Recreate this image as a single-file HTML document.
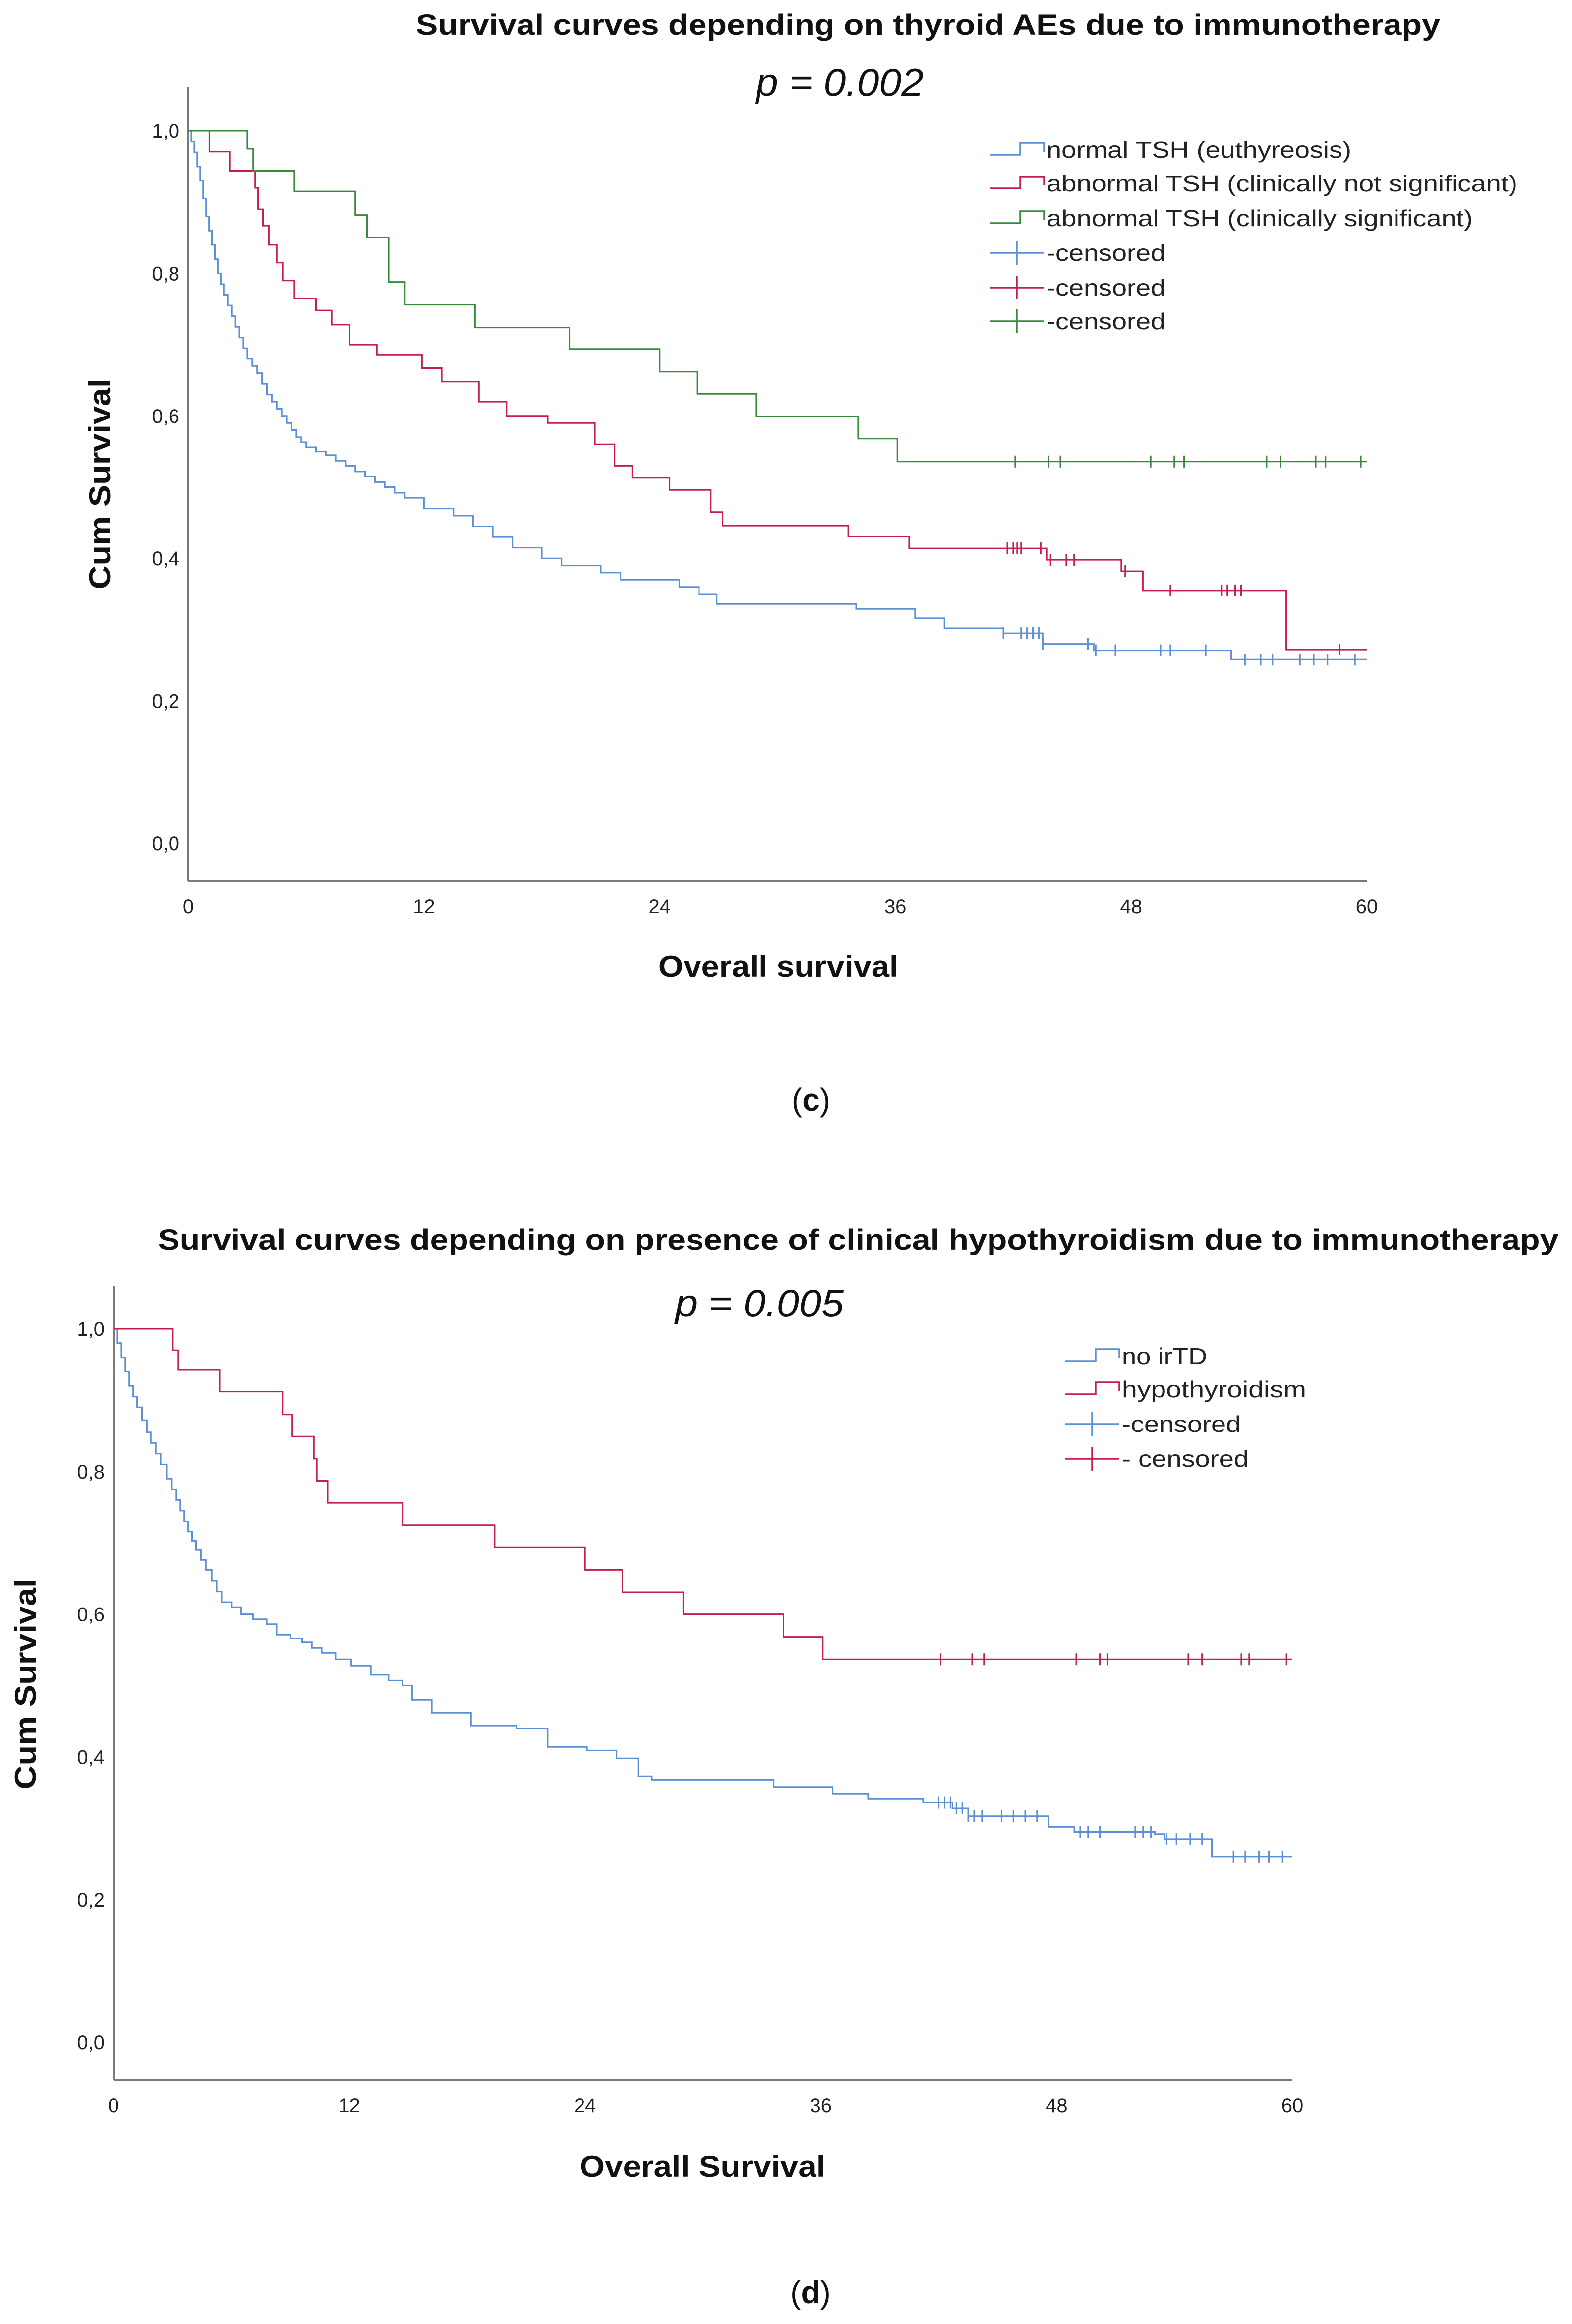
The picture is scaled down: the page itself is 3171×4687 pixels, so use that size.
<!DOCTYPE html>
<html><head><meta charset="utf-8"><style>
html,body{margin:0;padding:0;background:#fff;}
svg{display:block;}
text{font-family:"Liberation Sans",sans-serif;}
</style></head><body>
<svg id="root" width="3171" height="4687" viewBox="0 0 3171 4687" xmlns="http://www.w3.org/2000/svg">
<rect width="3171" height="4687" fill="#fff"/>
<g id="chartC"></g>
<g id="chartD"></g>
</svg>
<script>
// ---------- shared tick data ----------
const xTicks = [0, 12, 24, 36, 48, 60];
const yTicks = [0, 0.2, 0.4, 0.6, 0.8, 1.0];
const yTickLabels = ["0,0", "0,2", "0,4", "0,6", "0,8", "1,0"];

// ---------- chart (c) data ----------
const cBlueT = [0,0.15,0.3,0.45,0.6,0.75,0.9,1.05,1.2,1.35,1.5,1.65,1.8,2.0,2.2,2.4,2.6,2.8,3.0,3.25,3.5,3.75,4.0,4.25,4.5,4.75,5.0,5.25,5.5,5.75,6.0,6.5,7.0,7.5,8.0,8.5,9.0,9.5,10.0,10.5,11.0,12.0,13.5,14.5,15.5,16.5,18.0,19.0,21.0,22.0,25.0,26.0,26.9,34.0,37.0,38.5,41.5,43.5,46.1,53.1];
const cBlueS = [1.0,0.985,0.97,0.95,0.93,0.905,0.88,0.86,0.84,0.82,0.80,0.785,0.77,0.755,0.74,0.725,0.71,0.695,0.68,0.67,0.66,0.645,0.63,0.62,0.61,0.60,0.59,0.58,0.57,0.563,0.556,0.55,0.545,0.537,0.53,0.522,0.515,0.507,0.50,0.492,0.485,0.47,0.46,0.445,0.43,0.415,0.40,0.39,0.38,0.37,0.36,0.35,0.336,0.329,0.316,0.302,0.295,0.28,0.271,0.258];
const cBlueCens = [41.5,42.4,42.7,43.0,43.3,43.5,45.8,46.2,47.2,49.5,50.0,51.8,53.8,54.6,55.2,56.6,57.3,58.0,59.4];
const cRedT = [0,1.07,2.1,3.4,3.55,3.8,4.1,4.5,4.8,5.4,6.5,7.3,8.2,9.6,11.9,12.9,14.8,16.2,18.3,20.7,21.7,22.6,24.5,26.6,27.2,33.6,36.7,43.7,47.5,48.6,55.9];
const cRedS = [1.0,0.971,0.944,0.92,0.89,0.867,0.84,0.815,0.79,0.765,0.748,0.728,0.70,0.686,0.667,0.648,0.62,0.60,0.59,0.56,0.53,0.513,0.496,0.465,0.446,0.431,0.414,0.398,0.382,0.355,0.272];
const cRedCens = [41.7,42.0,42.2,42.4,43.4,43.9,44.7,45.1,47.7,50.0,52.6,52.9,53.3,53.6,58.6];
const cGreenT = [0,3.0,3.3,5.4,8.5,9.1,10.2,11.0,14.6,19.4,24.0,25.9,28.9,34.1,36.1];
const cGreenS = [1.0,0.975,0.944,0.915,0.882,0.850,0.788,0.756,0.724,0.694,0.662,0.631,0.599,0.568,0.536];
const cGreenCens = [42.1,43.8,44.4,49.0,50.2,50.7,54.9,55.6,57.4,57.9,59.7];

// ---------- chart (d) data ----------
const dBlueT = [0,0.2,0.4,0.6,0.8,1.0,1.2,1.45,1.7,1.9,2.15,2.4,2.7,2.95,3.2,3.4,3.6,3.8,4.0,4.2,4.45,4.7,5.0,5.25,5.5,6.0,6.5,7.1,7.8,8.3,9.0,9.6,10.1,10.6,11.3,12.1,13.1,14.0,14.7,15.2,16.2,18.2,20.5,22.1,24.1,25.6,26.7,27.4,33.6,36.6,38.4,41.2,42.7,43.5,47.6,48.9,53.0,53.5,55.9];
const dBlueS = [1.0,0.98,0.96,0.94,0.92,0.905,0.89,0.872,0.855,0.84,0.825,0.81,0.79,0.775,0.76,0.745,0.73,0.716,0.703,0.69,0.676,0.662,0.647,0.632,0.617,0.61,0.60,0.593,0.586,0.571,0.566,0.561,0.553,0.546,0.537,0.528,0.515,0.507,0.50,0.48,0.462,0.444,0.44,0.414,0.409,0.398,0.373,0.368,0.358,0.348,0.341,0.336,0.328,0.317,0.302,0.295,0.292,0.285,0.26];
const dBlueCens = [42.0,42.3,42.6,42.9,43.2,43.5,43.8,44.2,45.2,45.8,46.4,47.0,49.2,49.6,50.2,52.0,52.4,52.8,53.6,54.1,54.8,55.4,57.0,57.6,58.3,58.8,59.5];
const dRedT = [0,3.0,3.3,5.4,8.6,9.1,10.2,10.35,10.9,14.7,19.4,24.0,25.9,29.0,34.1,36.1];
const dRedS = [1.0,0.97,0.943,0.912,0.88,0.849,0.818,0.787,0.756,0.725,0.694,0.662,0.631,0.60,0.568,0.537];
const dRedCens = [42.1,43.7,44.3,49.0,50.2,50.6,54.7,55.4,57.4,57.8,59.7];

const BLUE = "#5b8fd6", RED = "#c41e4a", GREEN = "#3a8a3a";
const NS = "http://www.w3.org/2000/svg";

function mk(parent, tag, attrs, txt) {
  const e = document.createElementNS(NS, tag);
  for (const k in attrs) e.setAttribute(k, attrs[k]);
  if (txt !== undefined) e.textContent = txt;
  parent.appendChild(e);
  return e;
}

function stepVal(T, S, t) {
  let v = S[0];
  for (let i = 0; i < T.length; i++) if (T[i] <= t) v = S[i];
  return v;
}

function drawCurve(g, xs, ys, T, S, cens, color, name) {
  let d = "M" + xs(T[0]) + "," + ys(S[0]);
  for (let i = 1; i < T.length; i++) {
    d += " H" + xs(T[i]).toFixed(1) + " V" + ys(S[i]).toFixed(1);
  }
  d += " H" + xs(60).toFixed(1);
  const p = mk(g, "path", {d: d, fill: "none", stroke: color, "stroke-width": 3});
  
  
  cens.forEach(function (t) {
    const x = xs(t), y = ys(stepVal(T, S, t));
    const c = mk(g, "path", {d: "M" + x + "," + (y - 12) + " V" + (y + 12), stroke: color, "stroke-width": 3});
    
    
  });
}

function drawAxes(g, cfg) {
  const xs = function (t) { return cfg.x0 + (cfg.x1 - cfg.x0) * t / 60; };
  const ys = function (s) { return cfg.y0 + (cfg.y1 - cfg.y0) * s; };
  const ya = mk(g, "line", {x1: cfg.x0, y1: cfg.axTop, x2: cfg.x0, y2: cfg.axBot, stroke: "#7a7a7a", "stroke-width": 4});
  
  
  const xa = mk(g, "line", {x1: cfg.x0, y1: cfg.axBot, x2: cfg.x1, y2: cfg.axBot, stroke: "#7a7a7a", "stroke-width": 4});
  
  
  yTicks.forEach(function (v, i) {
    const t = mk(g, "text", {x: cfg.x0 - 18, y: ys(v) + 14, "text-anchor": "end", "font-size": 40, fill: "#222"}, yTickLabels[i]);
    
    
  });
  xTicks.forEach(function (v) {
    const t = mk(g, "text", {x: xs(v), y: cfg.xLabY, "text-anchor": "middle", "font-size": 40, fill: "#222"}, String(v));
    
    
  });
  return {xs: xs, ys: ys};
}

function legendRow(g, x, y, kind, color, label, tlen) {
  const ig = mk(g, "g", {});
  
  
  if (kind === "step") {
    mk(ig, "path", {d: "M" + x + "," + (y + 10) + " H" + (x + 62) + " V" + (y - 14) + " H" + (x + 110) + " V" + (y + 4), fill: "none", stroke: color, "stroke-width": 3.5});
  } else {
    mk(ig, "path", {d: "M" + x + "," + y + " H" + (x + 110) + " M" + (x + 55) + "," + (y - 24) + " V" + (y + 24), fill: "none", stroke: color, "stroke-width": 3.5});
  }
  mk(ig, "text", {x: x + 115, y: y + 16, "font-size": 46, fill: "#222", textLength: tlen, lengthAdjust: "spacingAndGlyphs"}, label);
}

// ---------- chart (c) ----------
(function () {
  const g = document.getElementById("chartC");
  const title = mk(g, "text", {x: 1872, y: 70, "text-anchor": "middle", "font-size": 58, "font-weight": "bold", fill: "#111", textLength: 2066, lengthAdjust: "spacingAndGlyphs"}, "Survival curves depending on thyroid AEs due to immunotherapy");
  
  
  const p = mk(g, "text", {x: 1694, y: 193, "text-anchor": "middle", "font-size": 78, "font-style": "italic", fill: "#111", textLength: 338, lengthAdjust: "spacingAndGlyphs"}, "p = 0.002");
  
  
  const a = drawAxes(g, {x0: 380, x1: 2757, y0: 1701, y1: 264, axTop: 176, axBot: 1776, xLabY: 1842});
  drawCurve(g, a.xs, a.ys, cBlueT, cBlueS, cBlueCens, BLUE, "normal-tsh");
  drawCurve(g, a.xs, a.ys, cRedT, cRedS, cRedCens, RED, "abnormal-tsh-not-significant");
  drawCurve(g, a.xs, a.ys, cGreenT, cGreenS, cGreenCens, GREEN, "abnormal-tsh-significant");
  const yl = mk(g, "text", {x: 0, y: 0, transform: "translate(222,976) rotate(-90)", "text-anchor": "middle", "font-size": 60, "font-weight": "bold", fill: "#111", textLength: 425, lengthAdjust: "spacingAndGlyphs"}, "Cum Survival");
  
  
  const xl = mk(g, "text", {x: 1570, y: 1970, "text-anchor": "middle", "font-size": 60, "font-weight": "bold", fill: "#111", textLength: 484, lengthAdjust: "spacingAndGlyphs"}, "Overall survival");
  
  
  const lg = mk(g, "g", {});
  
  
  legendRow(lg, 1996, 302, "step", BLUE, "normal TSH (euthyreosis)", 615);
  legendRow(lg, 1996, 370, "step", RED, "abnormal TSH (clinically not significant)", 950);
  legendRow(lg, 1996, 440, "step", GREEN, "abnormal TSH (clinically significant)", 860);
  legendRow(lg, 1996, 510, "cross", BLUE, "-censored", 240);
  legendRow(lg, 1996, 580, "cross", RED, "-censored", 240);
  legendRow(lg, 1996, 648, "cross", GREEN, "-censored", 240);
  const cap = mk(g, "text", {x: 1636, y: 2240, "text-anchor": "middle", "font-size": 64, "font-family": "Liberation Serif, serif", fill: "#111"});
  
  
  cap.innerHTML = '(<tspan font-weight="bold">c</tspan>)';
})();

// ---------- chart (d) ----------
(function () {
  const g = document.getElementById("chartD");
  const title = mk(g, "text", {x: 1731, y: 2520, "text-anchor": "middle", "font-size": 58, "font-weight": "bold", fill: "#111", textLength: 2825, lengthAdjust: "spacingAndGlyphs"}, "Survival curves depending on presence of clinical hypothyroidism due to immunotherapy");
  
  
  const p = mk(g, "text", {x: 1532, y: 2655, "text-anchor": "middle", "font-size": 78, "font-style": "italic", fill: "#111", textLength: 340, lengthAdjust: "spacingAndGlyphs"}, "p = 0.005");
  
  
  const a = drawAxes(g, {x0: 229, x1: 2607, y0: 4119, y1: 2680, axTop: 2594, axBot: 4195, xLabY: 4260});
  drawCurve(g, a.xs, a.ys, dBlueT, dBlueS, dBlueCens, BLUE, "no-irtd");
  drawCurve(g, a.xs, a.ys, dRedT, dRedS, dRedCens, RED, "hypothyroidism");
  const yl = mk(g, "text", {x: 0, y: 0, transform: "translate(72,3396) rotate(-90)", "text-anchor": "middle", "font-size": 60, "font-weight": "bold", fill: "#111", textLength: 425, lengthAdjust: "spacingAndGlyphs"}, "Cum Survival");
  
  
  const xl = mk(g, "text", {x: 1417, y: 4390, "text-anchor": "middle", "font-size": 60, "font-weight": "bold", fill: "#111", textLength: 496, lengthAdjust: "spacingAndGlyphs"}, "Overall Survival");
  
  
  const lg = mk(g, "g", {});
  
  
  legendRow(lg, 2148, 2735, "step", BLUE, "no irTD", 172);
  legendRow(lg, 2148, 2802, "step", RED, "hypothyroidism", 372);
  legendRow(lg, 2148, 2872, "cross", BLUE, "-censored", 240);
  legendRow(lg, 2148, 2942, "cross", RED, "- censored", 256);
  const cap = mk(g, "text", {x: 1635, y: 4645, "text-anchor": "middle", "font-size": 64, "font-family": "Liberation Serif, serif", fill: "#111"});
  
  
  cap.innerHTML = '(<tspan font-weight="bold">d</tspan>)';
})();
</script>
</body></html>
